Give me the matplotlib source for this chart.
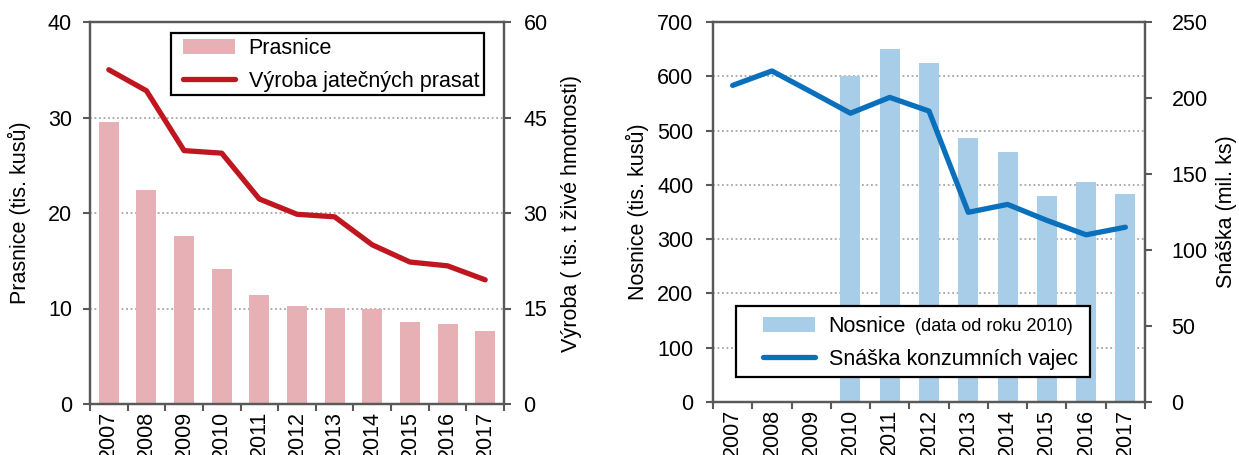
import matplotlib
matplotlib.use("Agg")
import matplotlib.pyplot as plt
import numpy as np
from matplotlib.patches import Patch, Rectangle
from matplotlib.lines import Line2D

plt.rcParams['font.family'] = ['Liberation Sans', 'DejaVu Sans']

years = ['2007', '2008', '2009', '2010', '2011', '2012', '2013', '2014', '2015', '2016', '2017']
prasnice = [29.5, 22.4, 17.6, 14.1, 11.4, 10.3, 10.1, 9.9, 8.6, 8.4, 7.6]
vyroba = [52.5, 49.2, 39.8, 39.4, 32.2, 29.8, 29.4, 25.0, 22.3, 21.7, 19.5]
nosnice = [np.nan, np.nan, np.nan, 600, 651, 625, 486, 460, 379, 405, 383]
snaska = [208.3, 217.8, 204.0, 190.0, 200.4, 191.4, 124.8, 130.0, 119.5, 110.0, 115.0]

PINK = '#E6B0B5'
RED = '#C0161F'
LBLUE = '#A8CDE8'
BLUE = '#0A70BC'
SPINE = '#595959'
FS = 15.5
W, H = 1239, 455

fig = plt.figure(figsize=(W / 100, H / 100), dpi=100)
ax1 = fig.add_axes([90 / W, 1 - 404 / H, 414 / W, 382 / H])
ax3 = fig.add_axes([713 / W, 1 - 402 / H, 432 / W, 380 / H])
x = np.arange(len(years))


def fx(px):
    return px / W


def fy(py):
    return 1 - py / H


def style(ax, ax2, ymax, ystep, y2max, y2step, padl, padr):
    ax.set_xlim(-0.5, len(years) - 0.5)
    ax.set_ylim(0, ymax)
    ax2.set_ylim(0, y2max)
    ax.set_yticks(np.arange(0, ymax + 0.1, ystep))
    ax2.set_yticks(np.arange(0, y2max + 0.1, y2step))
    for t in ax.get_yticks()[1:-1]:
        ax.axhline(t, color='#A6A6A6', lw=1.3, ls=(0, (1, 1.5)), zorder=0)
    ax.set_xticks(x)
    ax.set_xticklabels(years, rotation=90, fontsize=FS)
    ax.set_xticks(np.arange(-0.5, len(years)), minor=True)
    ax.tick_params(axis='x', which='major', length=0, pad=5)
    ax.tick_params(axis='x', which='minor', length=5, width=1.5, color=SPINE, direction='out')
    ax.tick_params(axis='y', length=5, width=1.5, color=SPINE, labelsize=FS, direction='out', pad=padl)
    ax2.tick_params(axis='y', length=5, width=1.5, color=SPINE, labelsize=FS, direction='out', pad=padr)
    for a in (ax, ax2):
        for s in a.spines.values():
            s.set_color(SPINE)
            s.set_linewidth(1.6)


def legend_box(ax, x0, y0, x1, y1):
    r = Rectangle((fx(x0), fy(y1)), fx(x1) - fx(x0), fy(y0) - fy(y1),
                  transform=fig.transFigure, facecolor='white', edgecolor='black',
                  lw=1.6, clip_on=False, zorder=4)
    ax.add_patch(r)


# Left chart
ax1.bar(x, prasnice, width=0.53, color=PINK, zorder=2)
ax2 = ax1.twinx()
ax2.plot(x, vyroba, color=RED, lw=3.8, solid_capstyle='round', solid_joinstyle='round', zorder=3)
style(ax1, ax2, 40, 10, 60, 15, 8, 9)
ax1.set_ylabel('Prasnice (tis. kusů)', fontsize=FS)
ax1.yaxis.set_label_coords(-0.142, 0.5)
ax2.set_ylabel('Výroba ( tis. t živé hmotnosti)', fontsize=FS)
ax2.yaxis.set_label_coords(1.138, 0.5)
legend_box(ax2, 171, 33, 484, 95)
h1 = [Patch(facecolor=PINK, edgecolor='none'),
      Line2D([], [], color=RED, lw=3.8, solid_capstyle='round')]
leg1 = ax2.legend(h1, ['Prasnice', 'Výroba jatečných prasat'], loc='upper left',
                  bbox_to_anchor=(fx(183), fy(38)), bbox_transform=fig.transFigure,
                  fontsize=FS, frameon=False, borderpad=0, handlelength=2.4,
                  handletextpad=0.65, labelspacing=0.55, borderaxespad=0)
leg1.set_zorder(5)

# Right chart
ax3.bar(x, nosnice, width=0.51, color=LBLUE, zorder=2)
ax4 = ax3.twinx()
ax4.plot(x, snaska, color=BLUE, lw=3.8, solid_capstyle='round', solid_joinstyle='round', zorder=3)
style(ax3, ax4, 700, 100, 250, 50, 9, 14)
ax3.set_ylabel('Nosnice (tis. kusů)', fontsize=FS)
ax3.yaxis.set_label_coords(-0.148, 0.5)
ax4.set_ylabel('Snáška (mil. ks)', fontsize=FS)
ax4.yaxis.set_label_coords(1.164, 0.5)
legend_box(ax4, 736, 306, 1090, 377)
h2 = [Patch(facecolor=LBLUE, edgecolor='none'),
      Line2D([], [], color=BLUE, lw=3.8, solid_capstyle='round')]
leg2 = ax4.legend(h2, ['Nosnice', 'Snáška konzumních vajec'], loc='upper left',
                  bbox_to_anchor=(fx(763), fy(316)), bbox_transform=fig.transFigure,
                  fontsize=FS, frameon=False, borderpad=0, handlelength=2.4,
                  handletextpad=0.65, labelspacing=0.55, borderaxespad=0)
leg2.set_zorder(5)

fig.canvas.draw()
t0 = leg2.get_texts()[0]
ext = t0.get_window_extent()
fig.text((ext.x1 + 9) / W, (ext.y0 + ext.y1) / 2 / H, '(data od roku 2010)',
         fontsize=13, va='center', ha='left', zorder=10)

fig.savefig('out.png', dpi=100)
